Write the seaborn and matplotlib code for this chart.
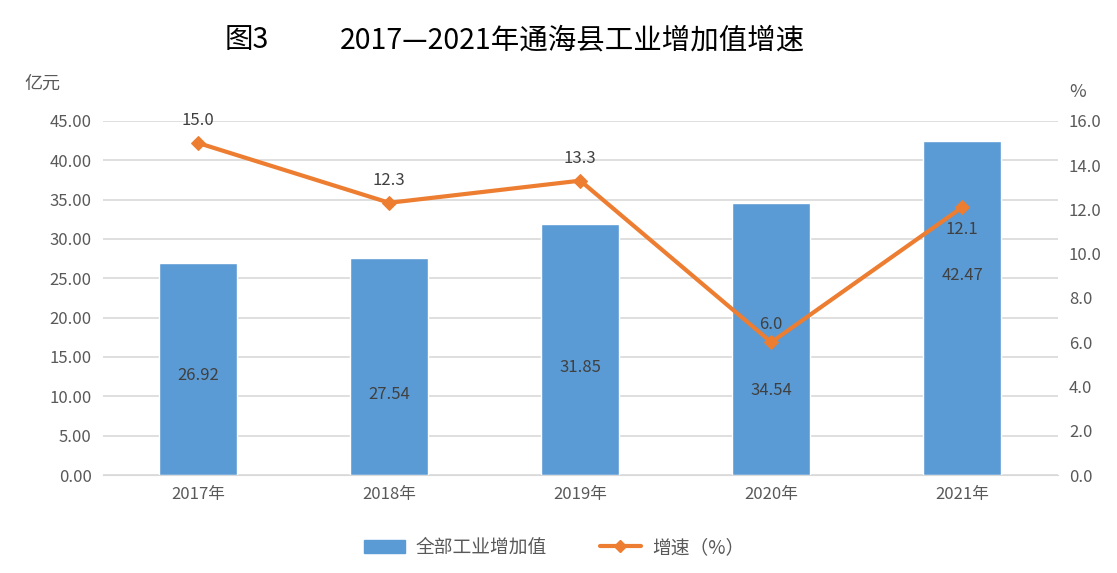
import numpy as np
import pandas as pd
import matplotlib
matplotlib.use('Agg')
import matplotlib.pyplot as plt
import seaborn as sns
from matplotlib.lines import Line2D
from matplotlib.patches import Patch

years = ['2017年', '2018年', '2019年', '2020年', '2021年']
value_add = [26.92, 27.54, 31.85, 34.54, 42.47]
growth = [15.0, 12.3, 13.3, 6.0, 12.1]

sns.set_style('white')
plt.rcParams['font.family'] = ['Noto Sans CJK SC', 'DejaVu Sans']

blue = '#5B9BD5'
orange = '#ED7D31'
txt = '#595959'

df = pd.DataFrame({'year': years, 'value': value_add, 'growth': growth})

fig = plt.figure(figsize=(11.17, 5.73), dpi=100)
ax = fig.add_axes([0.092, 0.171, 0.855, 0.618])

sns.barplot(data=df, x='year', y='value', color=blue, width=0.41, ax=ax, saturation=1)
ax.set_ylim(0, 45)
ax.set_yticks(np.arange(0, 45.1, 5))
ax.set_yticklabels([f'{v:.2f}' for v in np.arange(0, 45.1, 5)])
ax.yaxis.grid(True, color='#D9D9D9', linewidth=1.2)
ax.set_axisbelow(True)
ax.set_xlabel('')
ax.set_ylabel('')
for s in ax.spines.values():
    s.set_visible(False)
ax.spines['bottom'].set_visible(True)
ax.spines['bottom'].set_color('#D9D9D9')
ax.tick_params(axis='both', length=0, labelsize=12, colors=txt, pad=8)

# label heights inside bars (as placed in the original)
bar_label_y = [12.7, 10.2, 13.6, 10.8, 25.3]
for i, v in enumerate(value_add):
    ax.text(i, bar_label_y[i], f'{v:.2f}', ha='center', va='center', fontsize=12, color='#404040')

ax2 = ax.twinx()
sns.lineplot(x=np.arange(len(years)), y=growth, ax=ax2, color=orange, linewidth=3,
             marker='D', markersize=7, markeredgecolor=orange)
ax2.set_ylim(0, 16)
ax2.set_yticks(np.arange(0, 16.1, 2))
ax2.set_yticklabels([f'{v:.1f}' for v in np.arange(0, 16.1, 2)])
for s in ax2.spines.values():
    s.set_visible(False)
ax2.tick_params(axis='y', length=0, labelsize=12, colors=txt, pad=8)
ax.set_xlim(-0.5, len(years) - 0.5)

offsets = [1.0, 1.0, 1.0, 0.8, -1.0]
for i, g in enumerate(growth):
    ax2.text(i, g + offsets[i], f'{g:.1f}', ha='center', va='center', fontsize=12, color='#404040')

fig.text(0.038, 0.853, '亿元', ha='center', va='center', fontsize=13, color=txt)
fig.text(0.965, 0.839, '%', ha='center', va='center', fontsize=13, color=txt)
fig.text(0.201, 0.93, '图3', ha='left', va='center', fontsize=20.5, color='#000000')
fig.text(0.304, 0.93, '2017—2021年通海县工业增加值增速', ha='left', va='center',
         fontsize=20.5, color='#000000')

handles = [Patch(color=blue, label='全部工业增加值'),
           Line2D([0], [0], color=orange, lw=3, marker='D', markersize=6, label='增速（%）')]
fig.legend(handles=handles, loc='center', bbox_to_anchor=(0.496, 0.045), ncol=2, frameon=False,
           fontsize=13.5, labelcolor=txt, handlelength=2.2, handletextpad=0.6, columnspacing=2.8)

fig.savefig('out.png', dpi=100)
